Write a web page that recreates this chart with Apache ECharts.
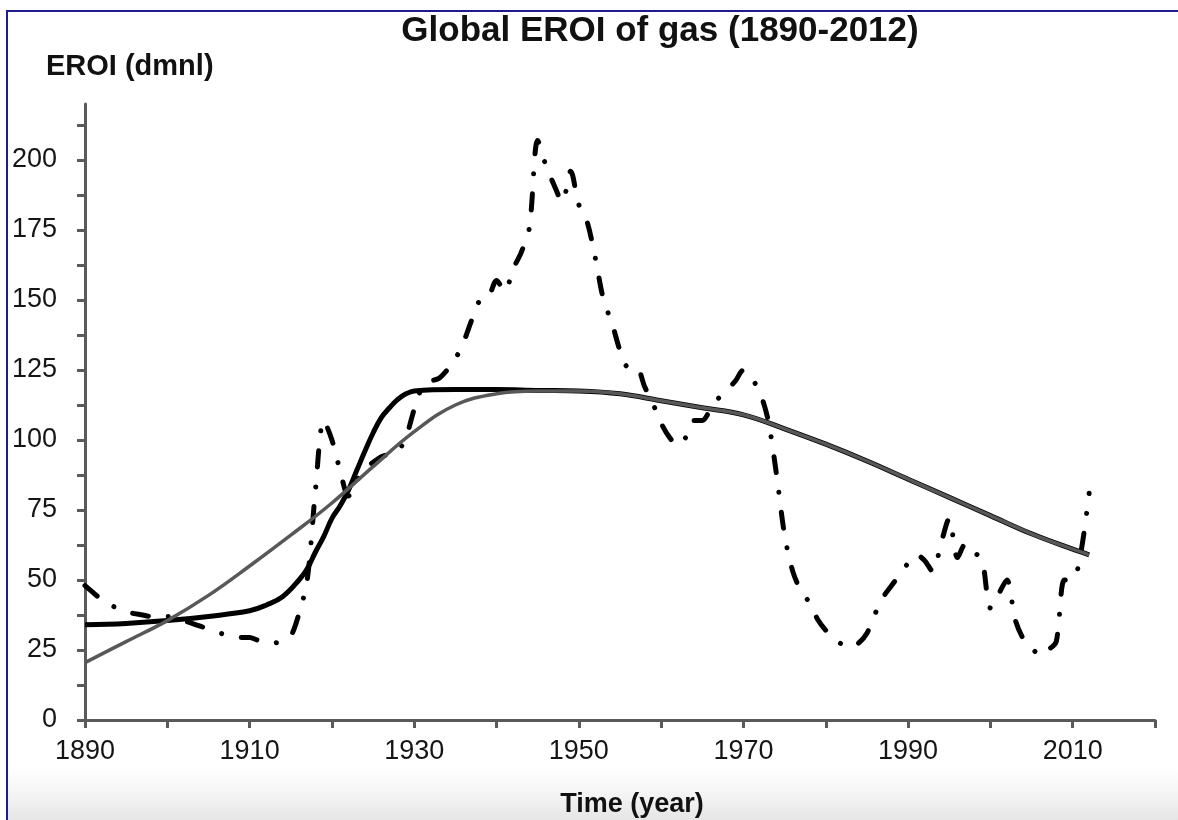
<!DOCTYPE html>
<html>
<head>
<meta charset="utf-8">
<title>Global EROI of gas (1890-2012)</title>
<script src="https://cdn.jsdelivr.net/npm/echarts@6/dist/echarts.min.js"></script>
<style>
  html, body { margin: 0; padding: 0; background: #fff; }
  #frame {
    position: absolute; left: 6px; top: 10px; width: 1172px; height: 810px;
    border-top: 2px solid #1c1c8e; border-left: 2px solid #1c1c8e;
    background: linear-gradient(to bottom, #fff 0, #fff 755px, #f3f3f3 785px, #e4e4e4 810px);
  }
  #chart { position: absolute; left: 0; top: 0; width: 1178px; height: 820px; }
</style>
</head>
<body>
<div id="frame"></div>
<div id="chart"></div>
<script>
const TITLE = "Global EROI of gas (1890-2012)";
const Y_NAME = "EROI (dmnl)";
const X_NAME = "Time (year)";

const X_TICKS = [1890, 1900, 1910, 1920, 1930, 1940, 1950, 1960, 1970, 1980, 1990, 2000, 2010, 2020];
const X_LABELS = [1890, 1910, 1930, 1950, 1970, 1990, 2010];
const Y_TICKS = [0, 12.5, 25, 37.5, 50, 62.5, 75, 87.5, 100, 112.5, 125, 137.5, 150, 162.5, 175, 187.5, 200, 212.5];
const Y_LABELS = [0, 25, 50, 75, 100, 125, 150, 175, 200];

// yearly EROI data (dash-dot)
const YEARS = [
  1890, 1891, 1892, 1893, 1894, 1895, 1896, 1897, 1898, 1899,
  1900, 1901, 1902, 1903, 1904, 1905, 1906, 1907, 1908, 1909,
  1910, 1911, 1912, 1913, 1914, 1915, 1916, 1917, 1918, 1919,
  1920, 1921, 1922, 1923, 1924, 1925, 1926, 1927, 1928, 1929,
  1930, 1931, 1932, 1933, 1934, 1935, 1936, 1937, 1938, 1939,
  1940, 1941, 1942, 1943, 1944, 1945, 1946, 1947, 1948, 1949,
  1950, 1951, 1952, 1953, 1954, 1955, 1956, 1957, 1958, 1959,
  1960, 1961, 1962, 1963, 1964, 1965, 1966, 1967, 1968, 1969,
  1970, 1971, 1972, 1973, 1974, 1975, 1976, 1977, 1978, 1979,
  1980, 1981, 1982, 1983, 1984, 1985, 1986, 1987, 1988, 1989,
  1990, 1991, 1992, 1993, 1994, 1995, 1996, 1997, 1998, 1999,
  2000, 2001, 2002, 2003, 2004, 2005, 2006, 2007, 2008, 2009,
  2010, 2011, 2012
];
const EROI = [
  48, 45.5, 43, 41, 40, 38.5, 38, 37.5, 37, 37,
  37, 36.5, 35.5, 34.5, 33.5, 32.5, 31.5, 30.5, 30, 29.5,
  29.5, 28.5, 28, 27.5, 28.5, 30, 38, 50, 82, 107,
  100, 89, 80, 85, 90, 92, 94, 95, 96, 101,
  111, 119, 121, 122, 125, 129, 135, 143, 150, 151,
  157, 153, 161, 167, 176, 207, 198, 191, 185, 196,
  184, 178, 165, 150, 142, 132, 126, 126, 119, 113,
  106, 101, 98, 101, 107, 107, 111, 115, 118, 121,
  125, 122, 117, 107, 88, 66, 53, 46, 42, 36,
  32, 29, 27, 26, 27.5, 31, 38, 44, 48, 52,
  56, 59, 57, 53, 63, 72, 58, 63, 60, 57,
  40, 45, 50, 36, 29, 26, 23, 25, 28, 50,
  50, 60, 81
];

// fitted curves
const BLACK_YEARS = [1890, 1895, 1900, 1905, 1910, 1912, 1914, 1916, 1917, 1918, 1919, 1920, 1921, 1922, 1923, 1924, 1925, 1926, 1927, 1928, 1929, 1930, 1935, 1940, 1945, 1950, 1955, 1960, 1965, 1970, 1975, 1980, 1985, 1990, 1995, 2000, 2005, 2010, 2012];
const BLACK_FIT = [34, 34.5, 35.5, 37, 39, 41, 44, 50, 54, 60, 65.5, 72, 76.5, 82, 89, 96, 102.5, 108, 111.5, 114.5, 116.5, 117.5, 118, 118, 117.7, 117.5, 116.5, 114, 111.5, 109, 104, 98.5, 92.5, 86, 79.5, 73, 66.5, 61, 59];
const GRAY_YEARS = [1890, 1895, 1900, 1905, 1910, 1915, 1920, 1925, 1930, 1935, 1940, 1945, 1950, 1955, 1960, 1965, 1970, 1975, 1980, 1985, 1990, 1995, 2000, 2005, 2010, 2012];
const GRAY_FIT = [20.5, 28, 35.5, 44.5, 55, 66, 77.5, 90.5, 103, 112.5, 116.5, 117.5, 117.5, 116.5, 114, 111.5, 109, 104, 98.5, 92.5, 86, 79.5, 73, 66.5, 61, 59];

const FONT = '"Liberation Sans", Arial, Helvetica, sans-serif';
const AXIS_COLOR = "#5a5a5a";

const zip = (xs, ys) => xs.map((x, i) => [x, ys[i]]);

const chart = echarts.init(document.getElementById("chart"), null, { renderer: "canvas" });

chart.setOption({
  backgroundColor: "transparent",
  animation: false,
  grid: { left: 85, right: 23, top: 104, bottom: 100 },
  xAxis: {
    type: "value",
    min: 1890,
    max: 2020,
    axisLine: { lineStyle: { color: AXIS_COLOR, width: 3 } },
    axisTick: { customValues: X_TICKS, length: 8, lineStyle: { color: AXIS_COLOR, width: 3 } },
    axisLabel: {
      customValues: X_LABELS,
      margin: 18,
      color: "#151515",
      fontSize: 27,
      fontFamily: FONT,
      formatter: (v) => String(v),
    },
    splitLine: { show: false },
  },
  yAxis: {
    type: "value",
    min: 0,
    max: 220,
    axisLine: { show: true, lineStyle: { color: AXIS_COLOR, width: 3 } },
    axisTick: { show: true, customValues: Y_TICKS, length: 8, lineStyle: { color: AXIS_COLOR, width: 3 } },
    axisLabel: {
      customValues: Y_LABELS,
      margin: 28,
      color: "#151515",
      fontSize: 27,
      fontFamily: FONT,
      formatter: (v) => String(v),
    },
    splitLine: { show: false },
  },
  graphic: [
    {
      type: "text", x: 660, y: 14,
      style: { text: TITLE, fontSize: 35, fontWeight: "bold", fontFamily: FONT, fill: "#111", align: "center", verticalAlign: "top" },
    },
    {
      type: "text", x: 46, y: 52,
      style: { text: Y_NAME, fontSize: 29, fontWeight: "bold", fontFamily: FONT, fill: "#111", align: "left", verticalAlign: "top" },
    },
    {
      type: "text", x: 632, y: 791,
      style: { text: X_NAME, fontSize: 27, fontWeight: "bold", fontFamily: FONT, fill: "#111", align: "center", verticalAlign: "top" },
    },
  ],
  series: [
    {
      name: "EROI",
      type: "line",
      data: zip(YEARS, EROI),
      smooth: 0.3,
      showSymbol: false,
      z: 2,
      lineStyle: { color: "#000", width: 5, type: [16, 20, 0.01, 20], cap: "round", join: "round" },
    },
    {
      name: "Fit 1",
      type: "line",
      data: zip(BLACK_YEARS, BLACK_FIT),
      smooth: 0.4,
      showSymbol: false,
      z: 3,
      lineStyle: { color: "#000", width: 5 },
    },
    {
      name: "Fit 2",
      type: "line",
      data: zip(GRAY_YEARS, GRAY_FIT),
      smooth: 0.4,
      showSymbol: false,
      z: 4,
      lineStyle: { color: "#585858", width: 3.5 },
    },
  ],
});
</script>
</body>
</html>
